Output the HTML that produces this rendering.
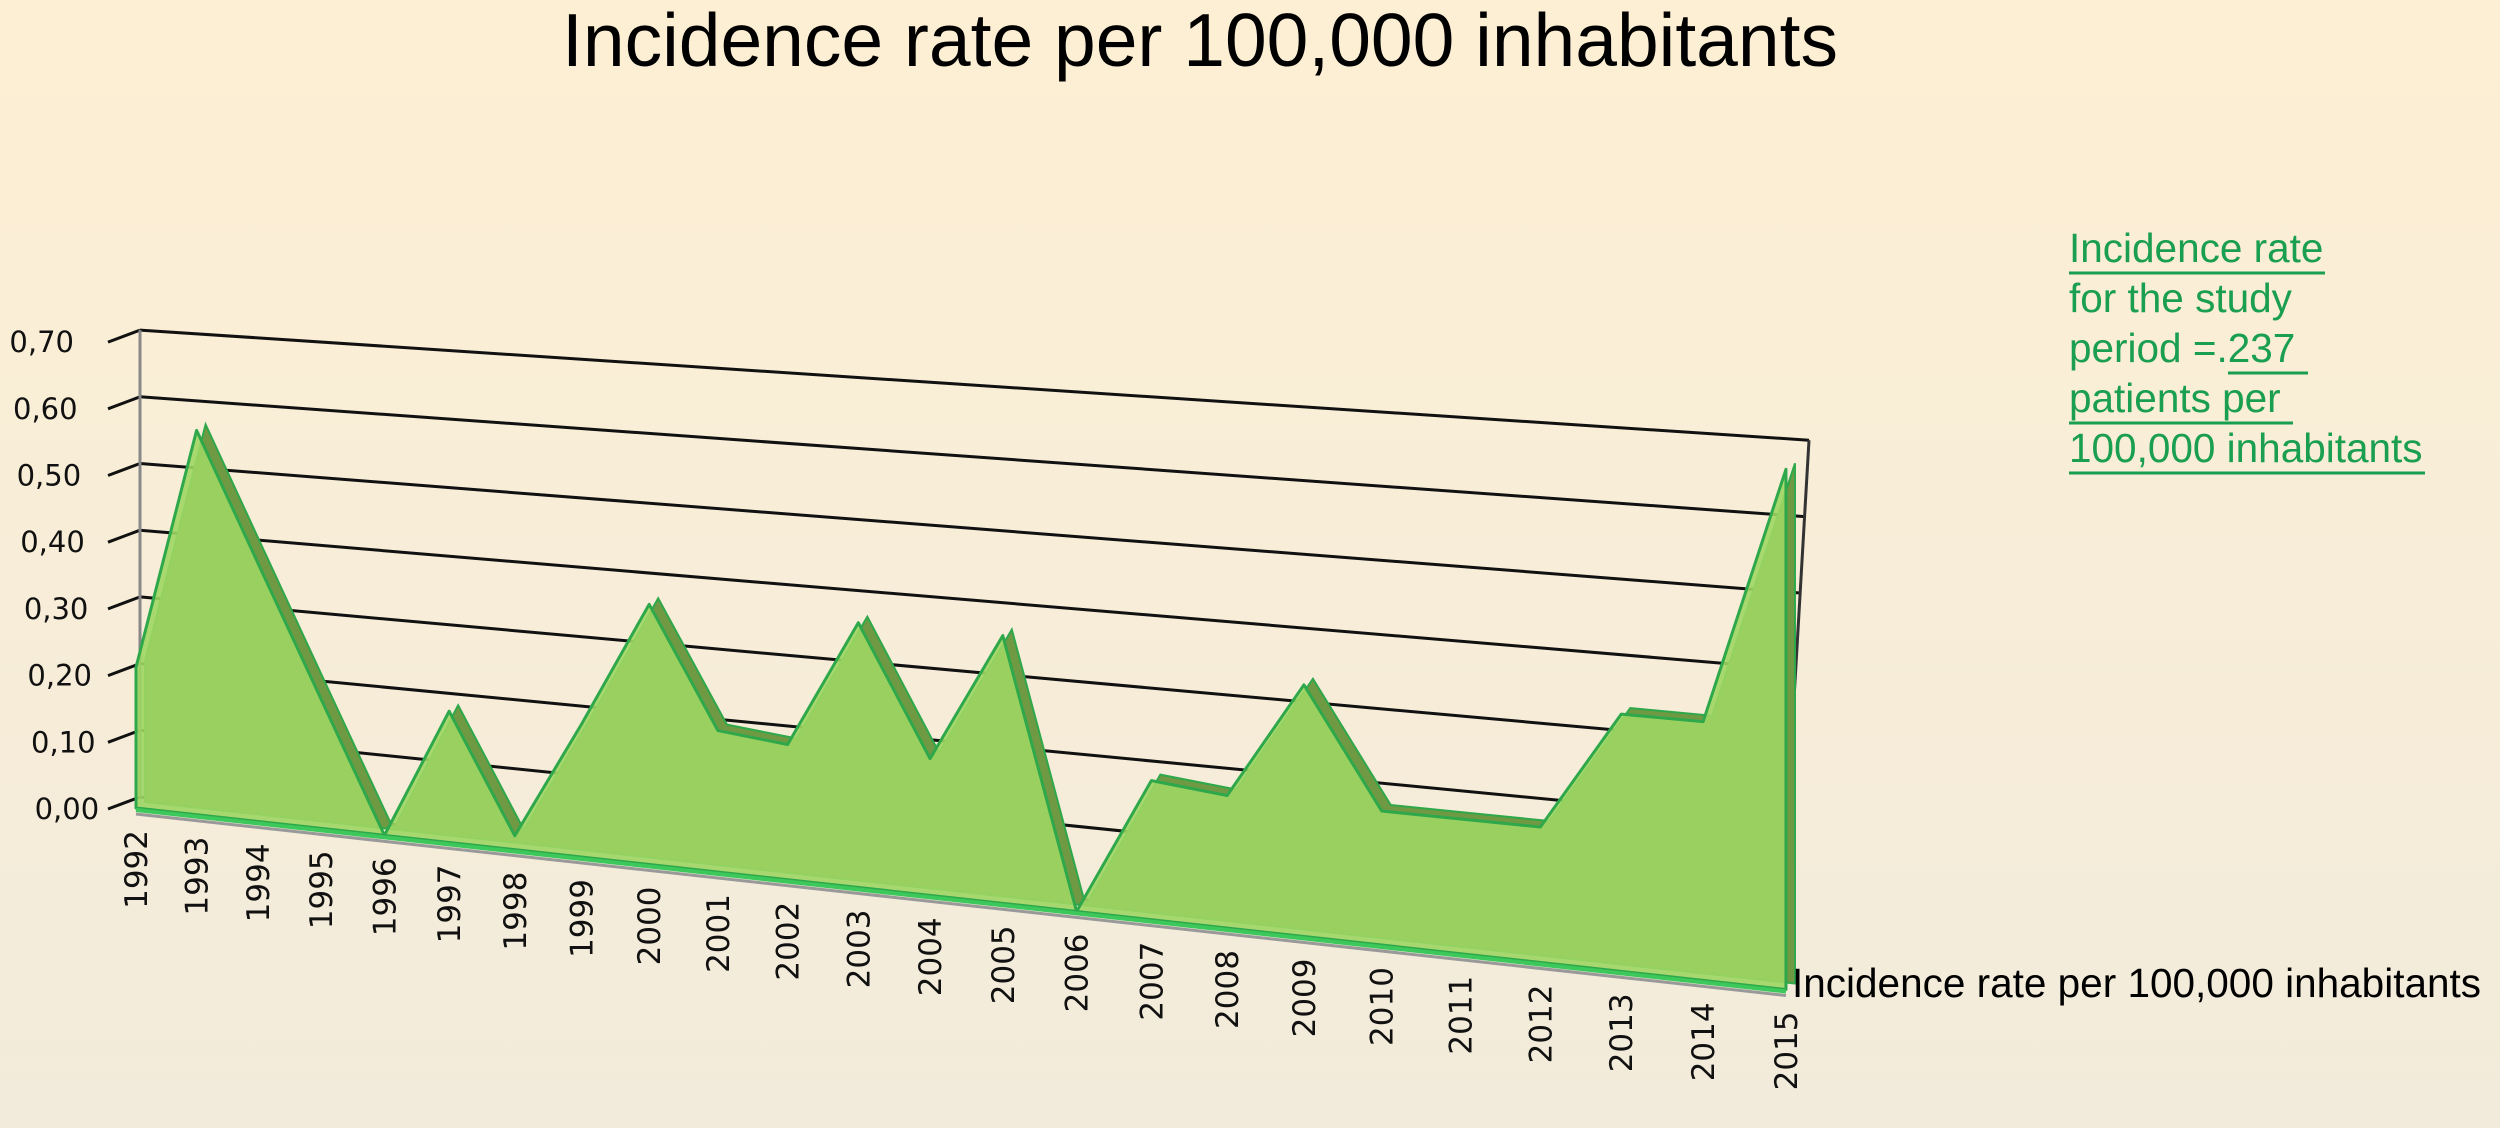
<!DOCTYPE html>
<html><head><meta charset="utf-8"><style>
html,body{margin:0;padding:0;width:2500px;height:1128px;overflow:hidden}
svg{display:block;font-family:"Liberation Sans",sans-serif}
</style></head><body>
<svg width="2500" height="1128" viewBox="0 0 2500 1128">
<defs><linearGradient id="bg" x1="0" y1="0" x2="0" y2="1"><stop offset="0" stop-color="#fdefd4"/><stop offset="1" stop-color="#f2ebdb"/></linearGradient></defs>
<rect width="2500" height="1128" fill="url(#bg)"/>
<text x="1200" y="66" font-size="75" text-anchor="middle" fill="#000">Incidence rate per 100,000 inhabitants</text>
<g id="wall"></g>
<g id="series"></g>
<g id="xlab"></g>
<g id="ylab"></g>
<text x="1792" y="997" font-size="40.5" fill="#000">Incidence rate per 100,000 inhabitants</text>
<g fill="#1a9e50" font-size="40.5">
<text x="2069" y="262">Incidence rate</text>
<text x="2069" y="312">for the study</text>
<text x="2069" y="362">period =.237</text>
<text x="2069" y="412">patients per</text>
<text x="2069" y="462">100,000 inhabitants</text>
<g stroke="#1a9e50" stroke-width="3">
<line x1="2069" y1="273" x2="2325" y2="273"/>
<line x1="2228" y1="373" x2="2308" y2="373"/>
<line x1="2069" y1="423" x2="2293" y2="423"/>
<line x1="2069" y1="473" x2="2425" y2="473"/>
</g></g>
</svg>
<script>
const years=["1992","1993","1994","1995","1996","1997","1998","1999","2000","2001","2002","2003","2004","2005","2006","2007","2008","2009","2010","2011","2012","2013","2014","2015"];
const rates=[0.21,0.57,0.38,0.19,0.00,0.19,0.02,0.19,0.37,0.20,0.19,0.37,0.19,0.37,0.00,0.19,0.18,0.34,0.18,0.18,0.18,0.34,0.34,0.68];
const yTicks=[0,0.1,0.2,0.3,0.4,0.5,0.6,0.7];
const yTickLabels=["0,00","0,10","0,20","0,30","0,40","0,50","0,60","0,70"];
const NS="http://www.w3.org/2000/svg";
const n=years.length;
function fx(i){return 136+60.1*i+0.506*i*i;}
function fbase(i){return 808+0.11*(fx(i)-136);}
function fy(i,v){return fbase(i)-v*(670+i*(765-670)/(n-1));}
function wl(v){return [140,797-667*v];}
function wr(v){return [1778+31*v/0.7,975-764*v];}
function mk(tag,attrs,parent){const e=document.createElementNS(NS,tag);for(const k in attrs)e.setAttribute(k,attrs[k]);parent.appendChild(e);return e;}
const wall=document.getElementById('wall');
yTicks.forEach((v,k)=>{const a=wl(v),b=wr(v);
const l=mk('line',{x1:a[0],y1:a[1],x2:b[0],y2:b[1],stroke:'#111','stroke-width':3},wall);


mk('line',{x1:a[0]-32,y1:a[1]+12,x2:a[0],y2:a[1],stroke:'#111','stroke-width':3},wall);
const t=mk('text',{x:a[0]-66+(0.7-v)*36,y:a[1]+22,'font-size':29,'font-family':'DejaVu Sans, sans-serif','text-anchor':'end',fill:'#111'},document.getElementById('ylab'));
t.textContent=yTickLabels[k];


});
mk('line',{x1:140,y1:wl(0.7)[1],x2:140,y2:797,stroke:'#888','stroke-width':3},wall);
mk('line',{x1:wr(0.7)[0],y1:wr(0.7)[1],x2:1778,y2:975,stroke:'#333','stroke-width':3},wall);
const ser=document.getElementById('series');
const topPts=[];for(let i=0;i<n;i++)topPts.push([fx(i),fy(i,rates[i])]);
const basePts=[[fx(n-1),fbase(n-1)],[fx(0),fbase(0)]];
const dx=9,dy=-6;
const backPts=topPts.map(p=>[p[0]+dx,p[1]+dy]).concat(basePts.map(p=>[p[0]+dx,p[1]+dy]));
const pb=mk('polygon',{points:backPts.map(p=>p.join(',')).join(' '),fill:'#6f9a43',stroke:'#2ea84a','stroke-width':2},ser);


const frontPts=topPts.concat(basePts);
const pf=mk('polygon',{points:frontPts.map(p=>p.join(',')).join(' '),fill:'#9fd663','fill-opacity':0.9,stroke:'#2ea84a','stroke-width':3,'stroke-linejoin':'round'},ser);


mk('line',{x1:fx(0),y1:fbase(0)+6,x2:fx(n-1),y2:fbase(n-1)+6,stroke:'#999','stroke-width':3},ser);
mk('line',{x1:fx(0),y1:fbase(0)+2,x2:fx(n-1),y2:fbase(n-1)+2,stroke:'#3cc85a','stroke-width':4},ser);
const xl=document.getElementById('xlab');
years.forEach((y,i)=>{const x=fx(i)+11,yy=fbase(i)+22;
const t=mk('text',{x:x,y:yy,'font-size':31,'font-family':'DejaVu Sans, sans-serif','text-anchor':'end',fill:'#111',transform:`rotate(-90 ${x} ${yy})`},xl);
t.textContent=y;


});
</script>
</body></html>
